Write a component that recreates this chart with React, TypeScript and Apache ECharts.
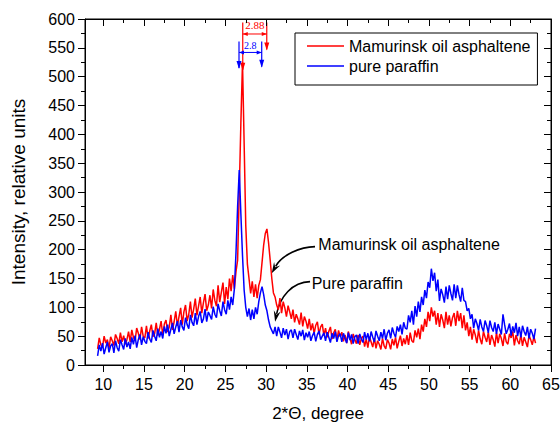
import React, { useEffect, useRef } from 'react';
import * as echarts from 'echarts';

// 2θ scan grid of both diffractograms
const scanStart = 9.3;
const scanStep = 0.2;

// Mamurinsk oil asphaltene (red), 10 points per 2°
const asphalteneIntensity = [
  28, 47, 35, 31, 50, 38, 44, 29, 49, 42,
  34, 53, 46, 37, 56, 40, 51, 36, 44, 58,
  40, 61, 48, 42, 64, 55, 44, 66, 50, 47,
  68, 46, 59, 70, 49, 54, 73, 51, 62, 76,
  52, 71, 78, 57, 66, 87, 61, 75, 93, 68,
  84, 99, 70, 92, 104, 76, 88, 110, 82, 97,
  115, 86, 102, 118, 90, 108, 123, 94, 104, 121,
  98, 131, 112, 102, 138, 109, 126, 143, 106, 135,
  114, 150, 128, 156, 132, 162, 182, 300, 420, 525,
  385, 242, 175, 150, 124, 145, 118, 140, 116, 138,
  148, 178, 208, 228, 236, 212, 182, 150, 125, 118,
  104, 96, 116, 90, 110, 99, 84, 103, 92, 80,
  96, 74, 88, 80, 70, 91, 67, 84, 76, 63,
  80, 60, 72, 55, 69, 75, 53, 66, 71, 51,
  64, 48, 58, 66, 45, 56, 62, 43, 60, 49,
  57, 41, 52, 38, 58, 47, 36, 54, 44, 37,
  52, 35, 46, 50, 32, 45, 30, 49, 40, 31,
  47, 29, 42, 36, 27, 46, 33, 28, 44, 38,
  27, 45, 34, 48, 29, 41, 51, 33, 46, 36,
  52, 35, 56, 42, 39, 60, 48, 63, 45, 70,
  58, 80, 66, 92, 76, 100, 84, 94, 70, 90,
  66, 88, 78, 64, 92, 70, 86, 67, 82, 90,
  68, 94, 76, 90, 64, 86, 60, 74, 50, 66,
  44, 62, 52, 38, 60, 45, 36, 58, 48, 40,
  57, 35, 52, 44, 32, 56, 38, 54, 46, 33,
  55, 40, 36, 54, 47, 58, 34, 52, 42, 36,
  53, 33, 48, 40, 31, 51, 44, 35, 49, 38,
];

// pure paraffin (blue)
const paraffinIntensity = [
  16, 35, 24, 38, 19, 30, 40, 22, 33, 37,
  21, 42, 30, 24, 44, 35, 27, 46, 31, 40,
  28, 48, 36, 51, 30, 44, 53, 35, 49, 41,
  37, 57, 45, 39, 60, 50, 42, 63, 48, 58,
  46, 67, 55, 70, 50, 62, 73, 54, 66, 76,
  57, 78, 66, 60, 82, 70, 63, 87, 74, 68,
  90, 70, 84, 93, 73, 80, 97, 75, 92, 86,
  79, 101, 88, 82, 106, 94, 85, 110, 96, 88,
  112, 96, 118, 104, 132, 195, 275, 338, 262, 190,
  130, 100, 84, 98, 78, 96, 80, 100, 88, 110,
  125, 136, 122, 104, 94, 78, 66, 60, 54, 66,
  50, 66, 57, 47, 64, 52, 62, 45, 58, 61,
  47, 62, 53, 44, 59, 50, 61, 43, 56, 48,
  58, 42, 51, 57, 41, 53, 59, 44, 50, 56,
  42, 57, 48, 39, 55, 46, 58, 40, 51, 54,
  40, 55, 46, 38, 56, 43, 53, 37, 49, 52,
  37, 54, 45, 39, 57, 44, 55, 41, 58, 48,
  40, 59, 50, 42, 57, 46, 62, 43, 55, 61,
  46, 65, 55, 48, 67, 58, 70, 53, 74, 64,
  62, 86, 74, 94, 70, 102, 84, 110, 92, 118,
  104, 130, 116, 144, 134, 167, 146, 160, 128, 148,
  111, 132, 122, 108, 136, 114, 138, 124, 112, 140,
  116, 138, 122, 110, 134, 112, 110, 94, 98, 80,
  88, 64, 80, 72, 60, 79, 66, 58, 77, 68,
  56, 77, 65, 58, 74, 54, 71, 62, 53, 88,
  70, 54, 62, 72, 51, 67, 56, 73, 50, 66,
  48, 68, 58, 51, 66, 46, 62, 55, 45, 63,
];

const seriesNames = ['Mamurinsk oil asphaltene', 'pure paraffin'];
const xMajorTicks = [10, 15, 20, 25, 30, 35, 40, 45, 50, 55, 60, 65];
const xMinorTicks = [12.5, 17.5, 22.5, 27.5, 32.5, 37.5, 42.5, 47.5, 52.5, 57.5, 62.5];

// peak spacing annotations (data coordinates)
const spacingMarks = [
  { label: '2.88', color: '#ff0000', x1: 27.13, x2: 30.08, top: 594, leftEnd: 512, rightEnd: 547, bar: 574, text: 590, size: 11 },
  { label: '2.8', color: '#0000ff', x1: 26.67, x2: 29.46, top: 561, leftEnd: 515, rightEnd: 517, bar: 542, text: 554, size: 10 },
];

// curved callouts (data coordinates)
const callouts = [
  { text: 'Mamurinsk oil asphaltene', at: [36.42, 208.3], from: [36.01, 205.3], c1: [34.17, 204.8], c2: [31.96, 190.9], tip: [30.69, 159.1] },
  { text: 'Pure paraffin', at: [35.6, 141.8], from: [35.4, 144.6], c1: [33.19, 144], c2: [31.71, 118], tip: [31.1, 75.1] },
];

const FONT = '"Liberation Sans", Arial, sans-serif';

function toPairs(values: number[]) {
  return values.map((v, i) => [Number((scanStart + i * scanStep).toFixed(2)), v]);
}

function buildGraphics(chart: echarts.ECharts) {
  const px = (x: number, y: number) =>
    chart.convertToPixel({ xAxisIndex: 0, yAxisIndex: 0 }, [x, y]) as number[];
  const els: any[] = [];
  for (const m of spacingMarks) {
    const [lx, topY] = px(m.x1, m.top);
    const [, lEnd] = px(m.x1, m.leftEnd);
    const [rx] = px(m.x2, m.top);
    const [, rEnd] = px(m.x2, m.rightEnd);
    const [, barY] = px(m.x1, m.bar);
    const [cx, ty] = px((m.x1 + m.x2) / 2, m.text);
    const stroke = { stroke: m.color, lineWidth: 1.2 };
    els.push({ type: 'line', shape: { x1: lx, y1: topY, x2: lx, y2: lEnd }, style: stroke, silent: true });
    els.push({ type: 'line', shape: { x1: rx, y1: topY, x2: rx, y2: rEnd }, style: stroke, silent: true });
    els.push({ type: 'polygon', shape: { points: [[lx, lEnd + 1], [lx - 2.5, lEnd - 7], [lx + 2.5, lEnd - 7]] }, style: { fill: m.color }, silent: true });
    els.push({ type: 'polygon', shape: { points: [[rx, rEnd + 1], [rx - 2.5, rEnd - 7], [rx + 2.5, rEnd - 7]] }, style: { fill: m.color }, silent: true });
    els.push({ type: 'line', shape: { x1: lx, y1: barY, x2: rx, y2: barY }, style: { stroke: m.color, lineWidth: 1 }, silent: true });
    els.push({ type: 'polygon', shape: { points: [[lx, barY], [lx + 5, barY - 2], [lx + 5, barY + 2]] }, style: { fill: m.color }, silent: true });
    els.push({ type: 'polygon', shape: { points: [[rx, barY], [rx - 5, barY - 2], [rx - 5, barY + 2]] }, style: { fill: m.color }, silent: true });
    els.push({
      type: 'text', x: cx, y: ty, silent: true,
      style: { text: m.label, fill: m.color, fontSize: m.size, fontFamily: '"Liberation Serif", "Times New Roman", serif', align: 'center', verticalAlign: 'middle' },
    });
  }
  for (const c of callouts) {
    const [sx, sy] = px(c.from[0], c.from[1]);
    const [ax, ay] = px(c.c1[0], c.c1[1]);
    const [bx, by] = px(c.c2[0], c.c2[1]);
    const [tx, tyy] = px(c.tip[0], c.tip[1]);
    const [lx, ly] = px(c.at[0], c.at[1]);
    let dx = tx - bx, dy = tyy - by;
    const len = Math.hypot(dx, dy) || 1;
    dx /= len; dy /= len;
    const L = 11, W = 3.5;
    const baseX = tx - dx * L, baseY = tyy - dy * L;
    els.push({
      type: 'bezierCurve', silent: true,
      shape: { x1: sx, y1: sy, cpx1: ax, cpy1: ay, cpx2: bx, cpy2: by, x2: baseX + dx * 3, y2: baseY + dy * 3 },
      style: { stroke: '#000', lineWidth: 1.6, fill: 'none' },
    });
    els.push({
      type: 'polygon', silent: true,
      shape: { points: [[tx, tyy], [baseX - dy * W, baseY + dx * W], [tx - dx * 7, tyy - dy * 7], [baseX + dy * W, baseY - dx * W]] },
      style: { fill: '#000' },
    });
    els.push({
      type: 'text', x: lx, y: ly, silent: true,
      style: { text: c.text, fill: '#000', fontSize: 16, fontFamily: FONT, align: 'left', verticalAlign: 'middle' },
    });
  }
  return els;
}

export default function App() {
  const ref = useRef<HTMLDivElement>(null);
  useEffect(() => {
    document.body.style.margin = '0';
    const chart = echarts.init(ref.current!, null, { renderer: 'svg' });
    const axisLineStyle = { color: '#000', width: 1 };
    const xRange = { min: 7.75, max: 65 };
    chart.setOption({
      animation: false,
      backgroundColor: '#fff',
      grid: {
        left: 85, right: 9, top: 19, bottom: 60, outerBoundsMode: 'none', containLabel: false,
        show: true, borderColor: '#000', borderWidth: 1, backgroundColor: 'transparent',
      },
      legend: {
        orient: 'vertical', left: 295, top: 33, align: 'left',
        data: seriesNames.map((n) => ({ name: n, icon: 'rect' })),
        itemWidth: 37, itemHeight: 1.5, itemGap: 4,
        padding: [5, 7, 11, 12],
        borderColor: '#000', borderWidth: 1, backgroundColor: '#fff',
        textStyle: { color: '#000', fontSize: 16, fontFamily: FONT },
      },
      xAxis: [
        {
          type: 'value', ...xRange, position: 'bottom',
          axisLine: { show: true, lineStyle: axisLineStyle },
          axisTick: { show: true, inside: false, length: 7, customValues: xMajorTicks, lineStyle: axisLineStyle },
          axisLabel: { customValues: xMajorTicks, color: '#000', fontSize: 16, fontFamily: FONT, margin: 11 },
          splitLine: { show: false },
          name: '2*Θ, degree', nameLocation: 'middle', nameGap: 40,
          nameTextStyle: { color: '#000', fontSize: 17, fontFamily: FONT },
        },
        {
          type: 'value', ...xRange, position: 'bottom',
          axisLine: { show: false },
          axisTick: { show: true, inside: false, length: 4, customValues: xMinorTicks, lineStyle: axisLineStyle },
          axisLabel: { show: false }, splitLine: { show: false },
        },
        {
          type: 'value', ...xRange, position: 'top',
          axisLine: { show: true, lineStyle: axisLineStyle },
          axisTick: { show: true, inside: true, length: 7, customValues: xMajorTicks, lineStyle: axisLineStyle },
          axisLabel: { show: false }, splitLine: { show: false },
        },
        {
          type: 'value', ...xRange, position: 'top',
          axisLine: { show: false },
          axisTick: { show: true, inside: true, length: 4, customValues: xMinorTicks, lineStyle: axisLineStyle },
          axisLabel: { show: false }, splitLine: { show: false },
        },
      ],
      yAxis: [
        {
          type: 'value', min: 0, max: 600, interval: 50, position: 'left',
          axisLine: { show: true, lineStyle: axisLineStyle },
          axisTick: { show: true, inside: false, length: 7, lineStyle: axisLineStyle },
          minorTick: { show: true, splitNumber: 2, length: 4, lineStyle: axisLineStyle },
          axisLabel: { color: '#000', fontSize: 16, fontFamily: FONT, margin: 10 },
          splitLine: { show: false },
          name: 'Intensity, relative units', nameLocation: 'middle', nameGap: 57, nameRotate: 90,
          nameTextStyle: { color: '#000', fontSize: 19, fontFamily: FONT },
        },
        {
          type: 'value', min: 0, max: 600, interval: 50, position: 'right',
          axisLine: { show: true, lineStyle: axisLineStyle },
          axisTick: { show: true, inside: true, length: 7, lineStyle: axisLineStyle },
          minorTick: { show: true, splitNumber: 2, length: 4, lineStyle: axisLineStyle },
          axisLabel: { show: false }, splitLine: { show: false },
        },
      ],
      series: [
        {
          name: seriesNames[0], type: 'line', xAxisIndex: 0, yAxisIndex: 0,
          data: toPairs(asphalteneIntensity), showSymbol: false, symbol: 'none',
          lineStyle: { color: '#ff0000', width: 1.5 }, itemStyle: { color: '#ff0000' },
        },
        {
          name: seriesNames[1], type: 'line', xAxisIndex: 0, yAxisIndex: 0,
          data: toPairs(paraffinIntensity), showSymbol: false, symbol: 'none',
          lineStyle: { color: '#0000ff', width: 1.5 }, itemStyle: { color: '#0000ff' },
        },
      ],
    });
    chart.setOption({ graphic: buildGraphics(chart) });
    return () => chart.dispose();
  }, []);
  return <div ref={ref} style={{ width: 560, height: 425 }} />;
}
